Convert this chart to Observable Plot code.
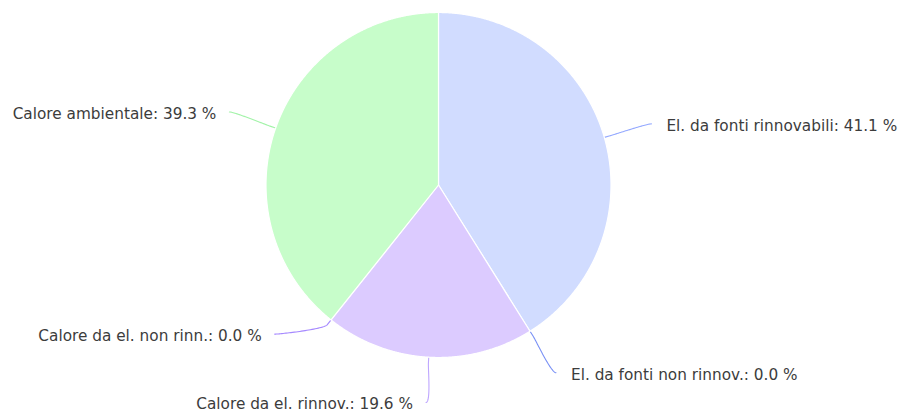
<!DOCTYPE html>
<html><head><meta charset="utf-8">
<script src="https://cdn.jsdelivr.net/npm/d3@7"></script>
<script src="https://cdn.jsdelivr.net/npm/@observablehq/plot@0.6"></script>
<style>html,body{margin:0;padding:0;background:#fff;} #chart svg{display:block}</style>
</head><body><div id="chart"></div>
<script>
// ---- data ----
const categories = [
  "El. da fonti rinnovabili",
  "El. da fonti non rinnov.",
  "Calore da el. rinnov.",
  "Calore da el. non rinn.",
  "Calore ambientale"
];
const shares = [41.1, 0.0, 19.6, 0.0, 39.3];

// ---- styles ----
const sliceFill = ["#d1dcff", "#c4ceff", "#dccbff", "#cbb8ff", "#c7fdca"];
const connectorStroke = ["#94a9ff", "#7a91f5", "#bea6ff", "#a588ff", "#a2f3a8"];

// ---- layout ----
const W = 901, H = 414;
const cx = 438, cy = 184.5, r = 172.5;
const labelR = 221.5, breakOff = 6, bottomLimit = 402, gap = 72;

const arcs = d3.pie().sort(null).value(v => v)(shares);

// slice polygons
const slicePts = [];
arcs.forEach((a, i) => {
  const span = a.endAngle - a.startAngle;
  if (span <= 0) return;
  const n = Math.max(2, Math.ceil(span / 0.004));
  slicePts.push({k: i, x: cx, y: cy, fill: sliceFill[i]});
  for (let j = 0; j <= n; j++) {
    const t = a.startAngle + span * j / n;
    slicePts.push({k: i, x: cx + Math.sin(t) * r, y: cy - Math.cos(t) * r, fill: sliceFill[i]});
  }
});

// labels
const labels = arcs.map((a, i) => {
  const m = (a.startAngle + a.endAngle) / 2;
  const side = Math.sin(m) < 0 ? -1 : 1;
  return {i, m, side, y: cy - Math.cos(m) * labelR,
          label: `${categories[i]}: ${shares[i].toFixed(1)} %`};
});
[-1, 1].forEach(s => {
  const group = labels.filter(l => l.side === s).sort((a, b) => b.y - a.y);
  let prev = Infinity;
  group.forEach(l => { l.y = Math.min(l.y, prev - gap); prev = l.y; });
});
labels.forEach(l => {
  const dy = l.y - cy;
  l.x = cx + l.side * Math.sqrt(Math.max(0, labelR * labelR - dy * dy));
  l.y = Math.min(l.y, bottomLimit);
});

// connectors (soft bezier from label to slice edge)
const connPts = [];
labels.forEach(l => {
  const tx = cx + Math.sin(l.m) * r, ty = cy - Math.cos(l.m) * r;
  const bx = cx + Math.sin(l.m) * (r + breakOff), by = cy - Math.cos(l.m) * (r + breakOff);
  const p0 = [l.x, l.y], p1 = [l.x - l.side * 5, l.y], p2 = [2 * bx - tx, 2 * by - ty], p3 = [bx, by];
  const N = 40;
  for (let j = 0; j <= N; j++) {
    const t = j / N, u = 1 - t;
    const x = u*u*u*p0[0] + 3*u*u*t*p1[0] + 3*u*t*t*p2[0] + t*t*t*p3[0];
    const y = u*u*u*p0[1] + 3*u*u*t*p1[1] + 3*u*t*t*p2[1] + t*t*t*p3[1];
    connPts.push({k: l.i, x, y, stroke: connectorStroke[l.i]});
  }
  connPts.push({k: l.i, x: tx, y: ty, stroke: connectorStroke[l.i]});
});

const textStyle = {fontSize: 15.3, fontFamily: "DejaVu Sans, sans-serif", fill: "#3c3c3c", dy: 2};

const chart = Plot.plot({
  width: W, height: H,
  margin: 0,
  x: {domain: [0, W], range: [0, W], axis: null},
  y: {domain: [0, H], range: [0, H], axis: null},
  color: {type: "identity"},
  style: {background: "#fff", overflow: "visible"},
  marks: [
    Plot.line(connPts, {x: "x", y: "y", z: "k", stroke: "stroke", strokeWidth: 1.1, curve: "linear"}),
    Plot.line(slicePts, {x: "x", y: "y", z: "k", fill: "fill", stroke: "#fff", strokeWidth: 1.2, curve: "linear-closed"}),
    Plot.text(labels.filter(l => l.side < 0), {x: "x", y: "y", text: "label", textAnchor: "end", dx: -13, ...textStyle}),
    Plot.text(labels.filter(l => l.side > 0), {x: "x", y: "y", text: "label", textAnchor: "start", dx: 15, ...textStyle})
  ]
});
document.getElementById("chart").appendChild(chart);
</script>
</body></html>
